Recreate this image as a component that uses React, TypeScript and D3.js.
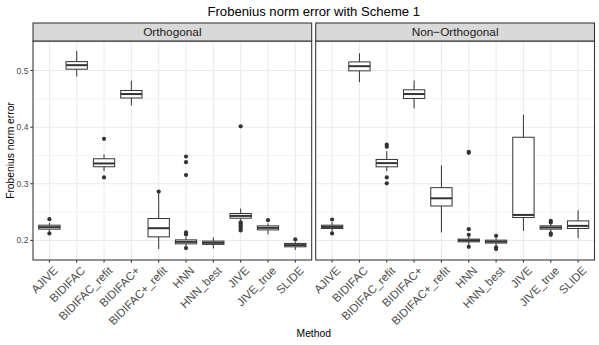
import React from "react";
import * as d3 from "d3";

const methods = ["AJIVE", "BIDIFAC", "BIDIFAC_refit", "BIDIFAC+", "BIDIFAC+_refit", "HNN", "HNN_best", "JIVE", "JIVE_true", "SLIDE"];
const panels = ["Orthogonal", "Non\u2212Orthogonal"];

// Orthogonal
const orthLow = [0.216, 0.4894, 0.3224, 0.4384, 0.1847, 0.19, 0.1859, 0.235, 0.2106, 0.183];
const orthQ1 = [0.2199, 0.5024, 0.3301, 0.4515, 0.2063, 0.194, 0.193, 0.2392, 0.2186, 0.1887];
const orthMed = [0.2234, 0.5095, 0.3359, 0.4585, 0.2216, 0.1975, 0.1958, 0.2433, 0.2222, 0.1917];
const orthQ3 = [0.2269, 0.5158, 0.3442, 0.4648, 0.2387, 0.201, 0.1988, 0.2475, 0.2257, 0.1947];
const orthHigh = [0.231, 0.5346, 0.3518, 0.4819, 0.2845, 0.206, 0.2053, 0.2563, 0.23, 0.198];
const orthOut = [
  [0.2375, 0.2123],
  [],
  [0.3794, 0.3113],
  [],
  [0.2862],
  [0.3482, 0.3382, 0.3154, 0.2141, 0.2105, 0.1865],
  [],
  [0.4015, 0.2317, 0.2295, 0.2265, 0.2235, 0.2205, 0.2175],
  [0.2357],
  [0.2018],
];

// Non-Orthogonal
const nonLow = [0.216, 0.4796, 0.3224, 0.4332, 0.2141, 0.192, 0.191, 0.2169, 0.215, 0.204];
const nonQ1 = [0.2211, 0.4995, 0.33, 0.4507, 0.2608, 0.1975, 0.1953, 0.2404, 0.2199, 0.2211];
const nonMed = [0.2239, 0.5077, 0.3365, 0.4585, 0.2744, 0.2, 0.1979, 0.245, 0.2229, 0.2257];
const nonQ3 = [0.2269, 0.5153, 0.343, 0.466, 0.2932, 0.2023, 0.2005, 0.3822, 0.2257, 0.2345];
const nonHigh = [0.232, 0.5306, 0.3576, 0.4824, 0.3324, 0.206, 0.204, 0.4221, 0.23, 0.2533];
const nonOut = [
  [0.2369, 0.2123],
  [],
  [0.3693, 0.3653, 0.3113, 0.3008],
  [],
  [],
  [0.3547, 0.3565, 0.2199, 0.2098, 0.1887],
  [0.2081, 0.1877, 0.1847],
  [],
  [0.2345, 0.2317, 0.2123, 0.2098],
  [],
];

const yTicks = [0.2, 0.3, 0.4, 0.5];
const yMinor = [0.25, 0.35, 0.45, 0.55];

const title = "Frobenius norm error with Scheme 1";
const xTitle = "Method";
const yTitle = "Frobenius norm error";

const panelData = [
  { low: orthLow, q1: orthQ1, med: orthMed, q3: orthQ3, high: orthHigh, out: orthOut },
  { low: nonLow, q1: nonQ1, med: nonMed, q3: nonQ3, high: nonHigh, out: nonOut },
];

const W = 599, H = 345;
const stripTop = 23, stripBottom = 41, panelBottom = 260;
const panelX = [[33, 311.7], [315.7, 594.5]];
const font = "Liberation Sans, Arial, Helvetica, sans-serif";
const dark = "#333333";

export default function App() {
  const all: number[] = [];
  panelData.forEach((p) => {
    all.push(...p.low, ...p.high);
    p.out.forEach((o) => all.push(...o));
  });
  const mn = d3.min(all)!, mx = d3.max(all)!;
  const pad = (mx - mn) * 0.05;
  const y = d3.scaleLinear().domain([mn - pad, mx + pad]).range([panelBottom, stripBottom]);

  return (
    <svg width={W} height={H} style={{ position: "absolute", left: 0, top: 0, background: "#fff" }} fontFamily={font}>
      <rect x={0} y={0} width={W} height={H} fill="#fff" />
      <text x={(panelX[0][0] + panelX[1][1]) / 2} y={15.5} textAnchor="middle" fontSize={13.1} fill="#000">{title}</text>
      {panels.map((name, pi) => {
        const [x0, x1] = panelX[pi];
        const x = d3.scalePoint().domain(methods).range([x0, x1]).padding(0.6);
        const step = x.step();
        const bw = step * 0.78;
        const p = panelData[pi];
        return (
          <g key={name}>
            <rect x={x0} y={stripBottom} width={x1 - x0} height={panelBottom - stripBottom} fill="#fff" />
            {yMinor.filter((v) => y(v) >= stripBottom && y(v) <= panelBottom).map((v) => (
              <line key={"mi" + v} x1={x0} x2={x1} y1={y(v)} y2={y(v)} stroke="#EBEBEB" strokeWidth={0.55} />
            ))}
            {yTicks.map((v) => (
              <line key={"ma" + v} x1={x0} x2={x1} y1={y(v)} y2={y(v)} stroke="#EBEBEB" strokeWidth={1.05} />
            ))}
            {methods.map((m) => (
              <line key={"vx" + m} x1={x(m)!} x2={x(m)!} y1={stripBottom} y2={panelBottom} stroke="#EBEBEB" strokeWidth={1.05} />
            ))}
            {methods.map((m, i) => {
              const c = x(m)!;
              return (
                <g key={"b" + m}>
                  <line x1={c} x2={c} y1={y(p.high[i])} y2={y(p.q3[i])} stroke={dark} strokeWidth={1} />
                  <line x1={c} x2={c} y1={y(p.low[i])} y2={y(p.q1[i])} stroke={dark} strokeWidth={1} />
                  <rect x={c - bw / 2} y={y(p.q3[i])} width={bw} height={y(p.q1[i]) - y(p.q3[i])} fill="#fff" stroke={dark} strokeWidth={1} />
                  <line x1={c - bw / 2} x2={c + bw / 2} y1={y(p.med[i])} y2={y(p.med[i])} stroke={dark} strokeWidth={2} />
                  {p.out[i].map((o, k) => (
                    <circle key={k} cx={c} cy={y(o)} r={2.1} fill={dark} />
                  ))}
                </g>
              );
            })}
            <rect x={x0} y={stripBottom} width={x1 - x0} height={panelBottom - stripBottom} fill="none" stroke={dark} strokeWidth={1.05} />
            <rect x={x0} y={stripTop} width={x1 - x0} height={stripBottom - stripTop} fill="#D9D9D9" stroke={dark} strokeWidth={1.05} />
            <text x={(x0 + x1) / 2} y={(stripTop + stripBottom) / 2 + 4.2} textAnchor="middle" fontSize={11.8} fill="#1A1A1A">{name}</text>
            {methods.map((m) => (
              <g key={"t" + m}>
                <line x1={x(m)!} x2={x(m)!} y1={panelBottom} y2={panelBottom + 2.7} stroke={dark} strokeWidth={1} />
                <text transform={`translate(${x(m)! + 3.3},${panelBottom + 5.5}) rotate(-45)`} textAnchor="end" dy="0.72em" fontSize={11.5} fill="#4D4D4D">{m}</text>
              </g>
            ))}
            {pi === 0 && yTicks.map((v) => (
              <g key={"yt" + v}>
                <line x1={x0 - 2.7} x2={x0} y1={y(v)} y2={y(v)} stroke={dark} strokeWidth={1} />
                <text x={x0 - 4.5} y={y(v)} dy="0.35em" textAnchor="end" fontSize={8.6} fill="#4D4D4D">{v.toFixed(1)}</text>
              </g>
            ))}
          </g>
        );
      })}
      <text x={(panelX[0][0] + panelX[1][1]) / 2} y={337} textAnchor="middle" fontSize={10.3} fill="#000">{xTitle}</text>
      <text transform={`translate(13.5,${(stripBottom + panelBottom) / 2}) rotate(-90)`} textAnchor="middle" fontSize={10.3} fill="#000">{yTitle}</text>
    </svg>
  );
}
